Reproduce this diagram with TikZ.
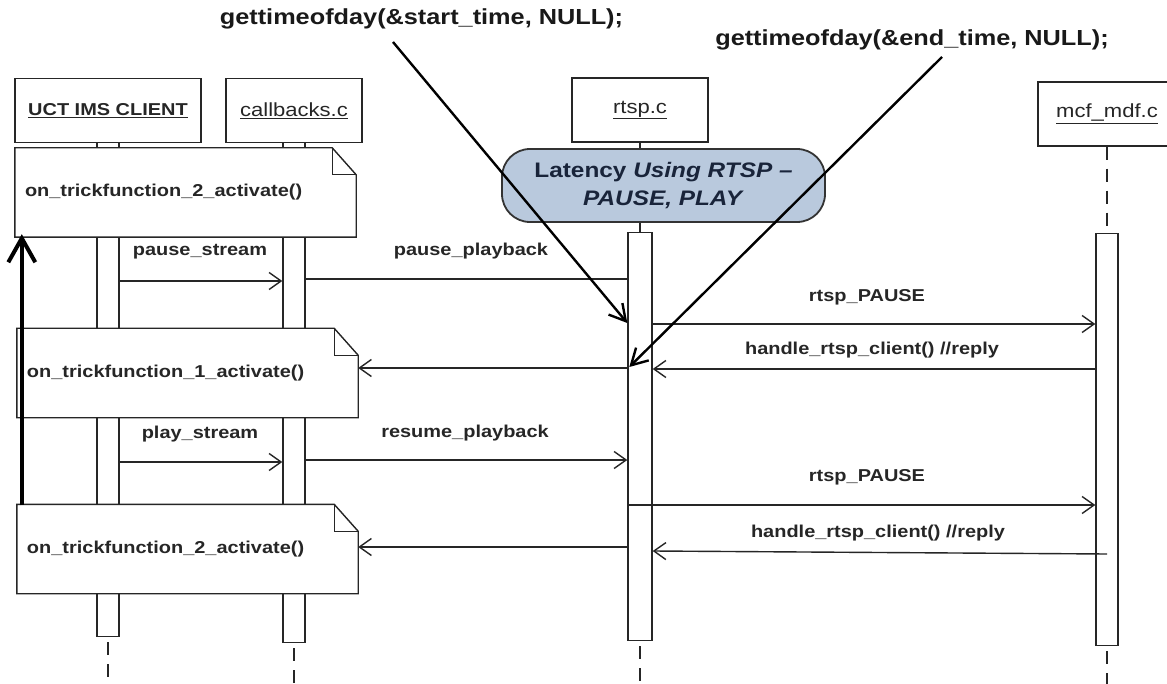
\documentclass[tikz,border=0pt]{standalone}
\usepackage{fontspec}
\newfontfamily\lab{Liberation Sans}[FakeStretch=1.16]
\usetikzlibrary{arrows.meta,calc}
\definecolor{latfill}{RGB}{185,201,221}
\definecolor{lattext}{RGB}{25,36,58}
\begin{document}
\begin{tikzpicture}[x=1pt,y=-1pt,
  ln/.style={draw=black!85, line width=1.4pt},
  hdr/.style={ln, fill=white, inner sep=0pt, minimum height=64pt},
  hfont/.style={font=\lab\fontsize{19}{22}\selectfont, text=black!85},
  lbl/.style={font=\lab\bfseries\fontsize{17.2}{20}\selectfont, inner sep=0pt, text=black!85},
  bar/.style={ln, fill=white, inner sep=0pt},
  notebox/.style={fill=white, inner xsep=10pt, inner ysep=0pt, text width=321pt, minimum height=89pt, align=left, font=\lab\bfseries\fontsize{17.2}{20}\selectfont, text=black!85},
  msg/.style={ln, -{Straight Barb[length=12pt,width=17pt]}},
  ann/.style={draw=black, line width=2.4pt, -{Straight Barb[length=16pt,width=18pt]}},
  life/.style={draw=black!85, line width=1.4pt, dash pattern=on 13pt off 9pt},
  annfont/.style={font=\lab\bfseries\fontsize{21.8}{25}\selectfont, inner sep=0pt, text=black!90},
]
\clip (0,0) rectangle (1167,684);
\fill[white] (0,0) rectangle (1167,684);

% headers
\node[hdr, minimum width=186pt, hfont, font=\lab\bfseries\fontsize{17.2}{20}\selectfont] (h1) at (108,110.5) {\underline{UCT IMS CLIENT}};
\node[hdr, minimum width=136pt, hfont] (h2) at (294,110.5) {\underline{callbacks.c}};
\node[hdr, minimum width=136pt, hfont] (h3) at (640,110) {\underline{rtsp.c}};
\node[hdr, minimum width=138pt, hfont] (h4) at (1107,114) {\underline{mcf\_mdf.c}};

% activation bars
\node[bar, minimum width=22pt, minimum height=494pt, anchor=north] (b1) at (108,142) {};
\node[bar, minimum width=22pt, minimum height=500pt, anchor=north] (b2) at (294,142) {};
\node[bar, minimum width=24pt, minimum height=408pt, anchor=north] (b3) at (640,232) {};
\node[bar, minimum width=22pt, minimum height=412pt, anchor=north] (b4) at (1107,233) {};

% lifelines
\coordinate (e1) at (108,690);
\coordinate (e2) at (294,690);
\coordinate (e3) at (640,690);
\coordinate (e4) at (1107,690);
\draw[ln] (h3.south) -- (b3.north);
\draw[life] (h4.south) -- (b4.north);
\draw[life] ($(b1.south)+(0,5)$) -- (e1);
\draw[life] ($(b2.south)+(0,5)$) -- (e2);
\draw[life] ($(b3.south)+(0,5)$) -- (e3);
\draw[life] ($(b4.south)+(0,5)$) -- (e4);

% title box
\node[draw=black!80, line width=1.8pt, fill=latfill, rounded corners=28pt, minimum width=323pt, minimum height=73pt, inner sep=0pt, align=center, text=lattext, font=\lab\bfseries\fontsize{21}{28}\selectfont] (lat) at (663.5,185.5) {Latency \textit{Using RTSP –}\\\textit{PAUSE, PLAY}};

% notes
\node[notebox] (n1) at (185.5,192.5) {on\_trickfunction\_2\_activate()};
\node[notebox] (n2) at (187.5,373) {on\_trickfunction\_1\_activate()};
\node[notebox] (n3) at (187.5,549) {on\_trickfunction\_2\_activate()};
\foreach \n in {n1,n2,n3}{
  \draw[ln] (\n.north west) -- ($(\n.north east)+(-24,0)$) -- ($(\n.north east)+(0,27)$) -- (\n.south east) -- (\n.south west) -- cycle;
  \draw[ln] ($(\n.north east)+(-24,0)$) -- ($(\n.north east)+(-24,27)$) -- ($(\n.north east)+(0,27)$);
}

% messages
\draw[msg] (b1.east |- 0,281) -- (b2.west |- 0,281);
\draw[ln] (b2.east |- 0,279) -- (b3.west |- 0,279);
\draw[msg] (b3.east |- 0,324) -- (b4.west |- 0,324);
\draw[msg] (b4.west |- 0,369) -- (b3.east |- 0,369);
\draw[msg] (b3.west |- 0,368) -- (n2.east |- 0,368);
\draw[msg] (b1.east |- 0,462) -- (b2.west |- 0,462);
\draw[msg] (b2.east |- 0,460) -- (b3.west |- 0,460);
\draw[msg] (b3.west |- 0,505) -- (b4.west |- 0,505);
\draw[msg] (b4.center |- 0,554) -- (b3.east |- 0,551);
\draw[msg] (b3.west |- 0,547) -- (n3.east |- 0,547);

\node[lbl] (l1) at (200,252) {pause\_stream};
\node[lbl] (l2) at (471,251) {pause\_playback};
\node[lbl] (l3) at (867,297) {rtsp\_PAUSE};
\node[lbl] (l4) at (872,350) {handle\_rtsp\_client() //reply};
\node[lbl] (l5) at (200,434) {play\_stream};
\node[lbl] (l6) at (465,433) {resume\_playback};
\node[lbl] (l7) at (867,477) {rtsp\_PAUSE};
\node[lbl] (l8) at (878,533) {handle\_rtsp\_client() //reply};

% thick arrow
\coordinate (ta) at ($(n3.north west)+(5,1)$);
\coordinate (tb) at ($(n1.south west)+(7,-3)$);
\draw[draw=black, line width=4pt, -{Straight Barb[length=24pt,width=27pt]}] (ta) -- (tb);

% annotations
\node[annfont] (t1) at (421.5,19) {gettimeofday(\&start\_time, NULL);};
\node[annfont] (t2) at (912,40) {gettimeofday(\&end\_time, NULL);};
\coordinate (s1) at (393,42);
\coordinate (s2) at (942,57);
\draw[ann] (s1) -- (b3.west |- 0,323);
\draw[ann] (s2) -- ($(b3.west |- 0,367)+(2,0)$);
\end{tikzpicture}
\end{document}
